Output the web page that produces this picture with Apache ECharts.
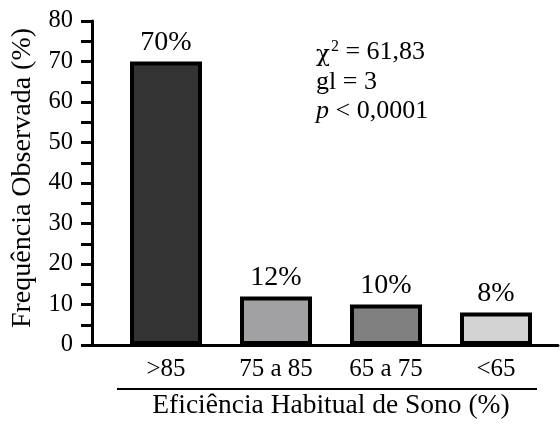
<!DOCTYPE html>
<html>
<head>
<meta charset="utf-8">
<script src="https://cdn.jsdelivr.net/npm/echarts@6/dist/echarts.min.js"></script>
<style>
html,body{margin:0;padding:0;background:#fff;}
#chart{width:560px;height:425px;}
</style>
</head>
<body>
<div id="chart"></div>
<script>
const categories = ['>85', '75 a 85', '65 a 75', '<65'];
const values = [70, 12, 10, 8];
const barColors = ['#333333', '#a1a1a4', '#808080', '#d3d3d3'];
const yMin = 0, yMax = 80, yInterval = 10;
const yAxisName = 'Frequência Observada (%)';
const xAxisName = 'Eficiência Habitual de Sono (%)';
const statLines = [
  '{chi|χ}{sup|2}{t| = 61,83}',
  '{t|gl = 3}',
  '{i|p}{t| < 0,0001}'
];

const FONT = 'Liberation Serif';
const chart = echarts.init(document.getElementById('chart'), null, {renderer: 'canvas'});

const option = {
  animation: false,
  backgroundColor: '#fff',
  grid: [
    {left: 92, right: 2, top: 21, bottom: 80},
    {left: 111, right: 9, top: 21, bottom: 80}
  ],
  xAxis: [
    {
      gridIndex: 0, type: 'category', data: categories,
      axisLine: {show: true, lineStyle: {color: '#000', width: 3}},
      axisTick: {show: false}, axisLabel: {show: false}, splitLine: {show: false}
    },
    {
      gridIndex: 1, type: 'category', data: categories,
      axisLine: {show: false}, axisTick: {show: false}, splitLine: {show: false},
      axisLabel: {fontFamily: FONT, fontSize: 25, color: '#000', margin: 12},
      name: xAxisName, nameLocation: 'middle', nameGap: 47,
      nameTextStyle: {fontFamily: FONT, fontSize: 27.5, color: '#000'}
    }
  ],
  yAxis: [
    {
      gridIndex: 0, type: 'value', min: yMin, max: yMax, interval: yInterval,
      axisLine: {show: true, lineStyle: {color: '#000', width: 3}},
      axisTick: {show: true, length: 11, lineStyle: {color: '#000', width: 3}},
      minorTick: {show: true, splitNumber: 2, length: 11, lineStyle: {color: '#000', width: 3}},
      splitLine: {show: false}, minorSplitLine: {show: false},
      axisLabel: {fontFamily: FONT, fontSize: 24.5, color: '#000', margin: 19},
      name: yAxisName, nameLocation: 'middle', nameGap: 55,
      nameTextStyle: {fontFamily: FONT, fontSize: 28, color: '#000', padding: [0, 0, 0, 10]}
    },
    {
      gridIndex: 1, type: 'value', min: yMin, max: yMax, interval: yInterval, show: false
    }
  ],
  series: [{
    type: 'bar', xAxisIndex: 1, yAxisIndex: 1,
    barWidth: 72,
    data: values.map((v, i) => ({value: v, itemStyle: {color: barColors[i]}})),
    itemStyle: {borderColor: '#000', borderWidth: 4},
    label: {
      show: true, position: 'top', distance: 5,
      formatter: p => p.value + '%',
      fontFamily: FONT, fontSize: 28, color: '#000'
    }
  }],
  graphic: [
    {
      type: 'line', shape: {x1: 117, y1: 389, x2: 537, y2: 389},
      style: {stroke: '#000', lineWidth: 2}
    },
    {
      type: 'group', left: 316, top: 38,
      children: statLines.map((s, i) => ({
        type: 'text', x: 0, y: i * 29.5,
        style: {
          text: s, fill: '#000', font: '26px ' + FONT,
          rich: {
            chi: {fontFamily: 'DejaVu Serif', fontSize: 23, fill: '#000', lineHeight: 28, padding: [6, 0, 0, 0]},
            sup: {fontFamily: FONT, fontSize: 16, fill: '#000', lineHeight: 28, padding: [0, 0, 12, 1]},
            t: {fontFamily: FONT, fontSize: 26, fill: '#000', lineHeight: 28},
            i: {fontFamily: FONT, fontSize: 26, fontStyle: 'italic', fill: '#000', lineHeight: 28}
          }
        }
      }))
    }
  ]
};
chart.setOption(option);
</script>
</body>
</html>
